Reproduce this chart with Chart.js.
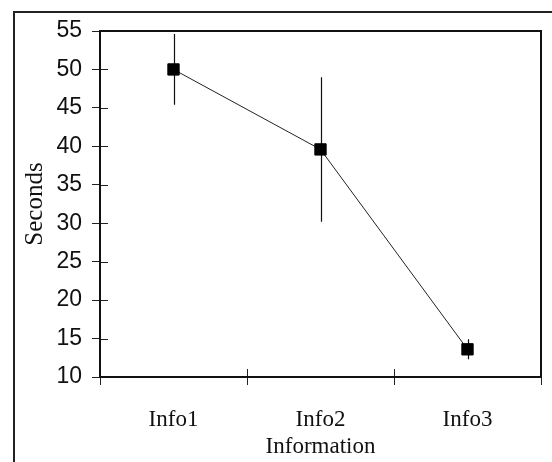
<!DOCTYPE html>
<html>
<head>
<meta charset="utf-8">
<script src="https://cdn.jsdelivr.net/npm/chart.js@4/dist/chart.umd.min.js"></script>
<style>
  html, body { margin: 0; padding: 0; background: #fff; }
  #wrap { position: relative; width: 552px; height: 462px; overflow: hidden; }
  #frame { position: absolute; left: 13px; top: 11px; width: 600px; height: 600px;
           border-left: 2px solid #222; border-top: 2px solid #222; }
  canvas { position: absolute; left: 0; top: 0; }
</style>
</head>
<body>
<div id="wrap">
  <div id="frame"></div>
  <canvas id="c" width="552" height="462"></canvas>
</div>
<script>
const categories = ["Info1", "Info2", "Info3"];
const meanSeconds = [50, 39.6, 13.6];
const errorSeconds = [4.6, 9.4, 1.3];
const yTicks = [10, 15, 20, 25, 30, 35, 40, 45, 50, 55];

const innerTicks = {
  id: 'innerTicks',
  afterDraw(chart) {
    const ctx = chart.ctx;
    const xs = chart.scales.x, ys = chart.scales.y;
    const a = chart.chartArea;
    ctx.save();
    ctx.strokeStyle = '#222';
    ctx.lineWidth = 1;
    ctx.beginPath();
    for (let i = 0; i <= categories.length; i++) {
      const x = Math.round(xs.getPixelForValue(i - 0.5)) + 0.5;
      ctx.moveTo(x, a.bottom);
      ctx.lineTo(x, a.bottom - 8);
    }
    yTicks.forEach(v => {
      const y = Math.round(ys.getPixelForValue(v)) + 0.5;
      ctx.moveTo(a.left, y);
      ctx.lineTo(a.left + 8, y);
    });
    ctx.stroke();
    ctx.lineWidth = 2;
    ctx.strokeStyle = '#111';
    ctx.strokeRect(a.left, a.top, a.right - a.left, a.bottom - a.top);
    ctx.restore();
  }
};

const errorBars = {
  id: 'errorBars',
  beforeDatasetsDraw(chart) {
    const ctx = chart.ctx;
    const xs = chart.scales.x, ys = chart.scales.y;
    ctx.save();
    ctx.strokeStyle = '#111';
    ctx.lineWidth = 1.2;
    ctx.beginPath();
    meanSeconds.forEach((m, i) => {
      const x = Math.round(xs.getPixelForValue(i)) + 0.5;
      ctx.moveTo(x, ys.getPixelForValue(m + errorSeconds[i]));
      ctx.lineTo(x, ys.getPixelForValue(m - errorSeconds[i]));
    });
    ctx.stroke();
    ctx.restore();
  }
};

new Chart(document.getElementById('c'), {
  type: 'line',
  data: {
    labels: categories,
    datasets: [{
      data: meanSeconds,
      borderColor: '#222',
      borderWidth: 1,
      backgroundColor: '#000',
      pointStyle: 'rect',
      pointRadius: 8,
      pointBorderWidth: 1,
      pointBorderColor: '#000',
      pointBackgroundColor: '#000',
      tension: 0
    }]
  },
  options: {
    responsive: false,
    animation: false,
    devicePixelRatio: 1,
    layout: { padding: { top: 31, right: 11, left: 0, bottom: 0 } },
    plugins: { legend: { display: false }, tooltip: { enabled: false } },
    scales: {
      x: {
        type: 'category',
        offset: true,
        grid: { offset: true, drawOnChartArea: false, tickLength: 8, color: '#222', lineWidth: 1 },
        border: { display: true, color: '#111', width: 2 },
        ticks: { color: '#111', padding: 21, font: { family: 'Liberation Serif', size: 23 } },
        title: { display: true, text: 'Information', color: '#111', padding: { top: 0, bottom: 1 },
                 font: { family: 'Liberation Serif', size: 23 } },
        afterFit(s) { s.height = 85; }
      },
      y: {
        min: 10, max: 55,
        afterBuildTicks(s) { s.ticks = yTicks.map(v => ({ value: v })); },
        grid: { drawOnChartArea: false, tickLength: 8, color: '#222', lineWidth: 1 },
        border: { display: true, color: '#111', width: 2 },
        ticks: { color: '#111', padding: 10, font: { family: 'Liberation Sans', size: 23 } },
        title: { display: true, text: 'Seconds', color: '#111', padding: { top: 20, bottom: 0 },
                 font: { family: 'Liberation Serif', size: 25 } },
        afterFit(s) { s.width = 100; }
      }
    }
  },
  plugins: [errorBars, innerTicks]
});
</script>
</body>
</html>
